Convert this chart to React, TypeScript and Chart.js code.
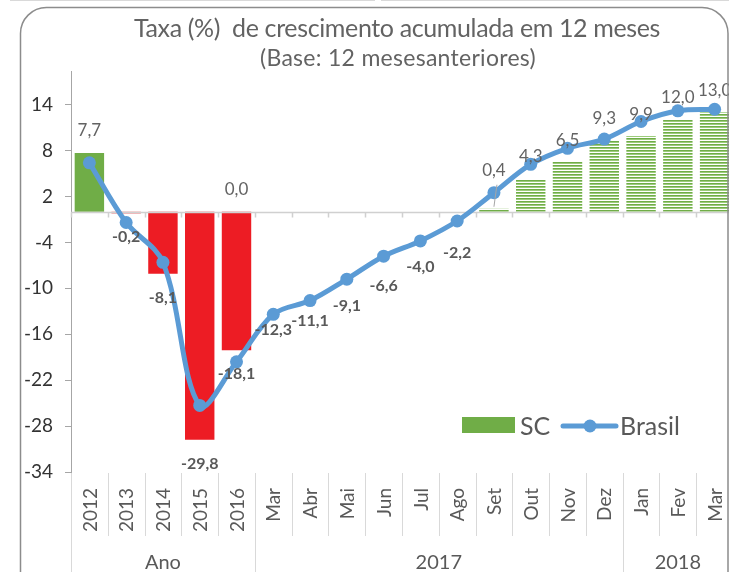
import React, { useEffect, useRef } from "react";
import { Chart, registerables } from "chart.js";

Chart.register(...registerables);

const categories = ["2012", "2013", "2014", "2015", "2016", "Mar", "Abr", "Mai", "Jun", "Jul", "Ago", "Set", "Out", "Nov", "Dez", "Jan", "Fev", "Mar"];
const groupLabels = ["Ano", "2017", "2018"];
const groupSizes = [5, 10, 3];
const scValues = [7.7, -0.2, -8.1, -29.8, -18.1, null, null, null, null, null, null, 0.4, 4.3, 6.5, 9.3, 9.9, 12.0, 13.0];
const brasilValues = [6.4, -1.4, -6.6, -25.3, -19.6, -13.4, -11.6, -8.8, -5.8, -3.8, -1.2, 2.5, 6.2, 8.3, 9.5, 11.8, 13.2, 13.4];
const upperLabels = [7.7, null, null, null, 0.0, null, null, null, null, null, null, 0.4, 4.3, 6.5, 9.3, 9.9, 12.0, 13.0];
const lowerLabels = [null, -0.2, -8.1, -29.8, -18.1, -12.3, -11.1, -9.1, -6.6, -4.0, -2.2, null, null, null, null, null, null, null];
const yTicks = [-34, -28, -22, -16, -10, -4, 2, 8, 14];
const yMin = -34;
const yMax = 18.4;
const titleText = "Taxa (%)  de crescimento acumulada em 12 meses";
const subtitleText = "(Base: 12 mesesanteriores)";

const FONT = 'Lato, "Open Sans", sans-serif';
const fmt = (v: number) => v.toFixed(1).replace(".", ",");

function fitText(ctx: CanvasRenderingContext2D, text: string, cx: number, y: number, width: number) {
  (ctx as any).letterSpacing = "0px";
  const w = ctx.measureText(text).width;
  const ls = (width - w) / text.length;
  (ctx as any).letterSpacing = ls + "px";
  ctx.textAlign = "left";
  ctx.fillText(text, cx - width / 2, y);
  (ctx as any).letterSpacing = "0px";
}

export default function App() {
  const ref = useRef<HTMLCanvasElement>(null);
  useEffect(() => {
    document.body.style.margin = "0";
    const canvas = ref.current!;
    const ctx = canvas.getContext("2d")!;
    const pc = document.createElement("canvas");
    pc.width = 4;
    pc.height = 3;
    const p = pc.getContext("2d")!;
    p.fillStyle = "#ffffff";
    p.fillRect(0, 0, 4, 3);
    p.fillStyle = "#70ad47";
    p.fillRect(0, 0, 4, 1);
    p.fillStyle = "#9ccb7c";
    p.fillRect(0, 1, 4, 1);
    const pattern = ctx.createPattern(pc, "repeat");
    const barColors = scValues.map((v, i) => (i >= 11 ? pattern : (v ?? 0) >= 0 ? "#70ad47" : "#ed1c24"));

    const custom = {
      id: "custom",
      beforeDraw(chart: any) {
        const c = chart.ctx;
        c.save();
        c.fillStyle = "#ffffff";
        c.fillRect(0, 0, chart.width, chart.height);
        c.restore();
      },
      afterDatasetDraw(chart: any, args: any) {
        if (args.index !== 0) return;
        const c = chart.ctx;
        const xs = chart.scales.x;
        const ys = chart.scales.y;
        const y0 = Math.round(ys.getPixelForValue(0)) + 0.5;
        const cw = xs.getPixelForValue(1) - xs.getPixelForValue(0);
        const left = xs.getPixelForValue(0) - cw / 2;
        c.save();
        c.strokeStyle = "#d0d0d0";
        c.lineWidth = 1.5;
        c.beginPath();
        c.moveTo(chart.chartArea.left, y0);
        c.lineTo(chart.chartArea.right, y0);
        for (let i = 0; i <= categories.length; i++) {
          const x = Math.round(left + i * cw) + 0.5;
          c.moveTo(x, y0);
          c.lineTo(x, y0 + 5);
        }
        c.stroke();
        c.restore();
      },
      afterDatasetsDraw(chart: any) {
        const c = chart.ctx;
        const xs = chart.scales.x;
        const ys = chart.scales.y;
        c.save();
        c.textAlign = "center";
        c.textBaseline = "middle";
        c.fillStyle = "#636363";
        c.font = `17px ${FONT}`;
        upperLabels.forEach((v, i) => {
          if (v === null) return;
          const x = xs.getPixelForValue(i);
          let y = ys.getPixelForValue(v) - 22;
          if (i === 11) {
            y = ys.getPixelForValue(v) - 38;
            c.save();
            c.strokeStyle = "#a6a6a6";
            c.lineWidth = 1;
            c.beginPath();
            c.moveTo(x + 3, y + 14);
            c.lineTo(x, y + 36);
            c.stroke();
            c.restore();
          }
          c.fillText(fmt(v), x, y);
        });
        c.font = `bold 16px ${FONT}`;
        c.fillStyle = "#595959";
        lowerLabels.forEach((v, i) => {
          if (v === null) return;
          const x = xs.getPixelForValue(i);
          const y = ys.getPixelForValue(v) + 24;
          c.fillText(fmt(v), x, y);
        });
        c.restore();
      },
      afterDraw(chart: any) {
        const c = chart.ctx;
        const xs = chart.scales.x;
        const area = chart.chartArea;
        c.save();
        // title
        c.fillStyle = "#636363";
        c.textBaseline = "alphabetic";
        c.font = `25px ${FONT}`;
        fitText(c, titleText, 397, 37, 526);
        c.font = `23px ${FONT}`;
        fitText(c, subtitleText, 398, 66, 276);

        // multi-level category axis
        const cw = xs.getPixelForValue(1) - xs.getPixelForValue(0);
        const left = xs.getPixelForValue(0) - cw / 2;
        const top = area.bottom + 1;
        const groupBounds = [0];
        groupSizes.forEach((s) => groupBounds.push(groupBounds[groupBounds.length - 1] + s));
        c.strokeStyle = "#d9d9d9";
        c.lineWidth = 1;
        c.beginPath();
        for (let i = 0; i <= categories.length; i++) {
          const x = Math.round(left + i * cw) + 0.5;
          const long = groupBounds.includes(i);
          c.moveTo(x, top);
          c.lineTo(x, long ? chart.height + 5 : top + 63);
        }
        c.stroke();
        c.fillStyle = "#595959";
        c.font = `19px ${FONT}`;
        categories.forEach((lab, i) => {
          const x = xs.getPixelForValue(i);
          c.save();
          c.translate(x, top + 15);
          c.rotate(-Math.PI / 2);
          c.textAlign = "right";
          c.textBaseline = "middle";
          c.fillText(lab, 0, 1);
          c.restore();
        });
        c.font = `20px ${FONT}`;
        c.textAlign = "center";
        c.textBaseline = "middle";
        groupLabels.forEach((g, gi) => {
          const a = groupBounds[gi];
          const b = groupBounds[gi + 1];
          const x = left + ((a + b) / 2) * cw;
          c.fillText(g, x, top + 90);
        });

        // legend
        c.fillStyle = "#70ad47";
        c.fillRect(462, 417, 53, 16);
        c.fillStyle = "#595959";
        c.font = `25px ${FONT}`;
        c.textAlign = "left";
        c.textBaseline = "alphabetic";
        c.fillText("SC", 520, 435);
        c.strokeStyle = "#5b9bd5";
        c.lineWidth = 5;
        c.lineCap = "round";
        c.beginPath();
        c.moveTo(563, 426);
        c.lineTo(616, 426);
        c.stroke();
        c.fillStyle = "#5b9bd5";
        c.beginPath();
        c.arc(590, 426, 6.5, 0, Math.PI * 2);
        c.fill();
        c.fillStyle = "#595959";
        c.fillText("Brasil", 620, 435);

        // outer border
        c.strokeStyle = "#8c8c8c";
        c.lineWidth = 1.5;
        c.lineCap = "butt";
        c.beginPath();
        (c as any).roundRect(20.5, 7.5, 707.5, 590, 26);
        c.stroke();
        c.strokeStyle = "#d9d9d9";
        c.lineWidth = 1;
        c.beginPath();
        c.moveTo(10, 0.5);
        c.lineTo(375, 0.5);
        c.moveTo(381, 0.5);
        c.lineTo(729, 0.5);
        c.stroke();
        c.restore();
      },
    };

    const chart = new Chart(canvas, {
      type: "bar",
      data: {
        labels: categories,
        datasets: [
          {
            type: "bar",
            label: "SC",
            data: scValues as any,
            backgroundColor: barColors as any,
            categoryPercentage: 0.8,
            barPercentage: 1,
            order: 1,
          },
          {
            type: "line",
            label: "Brasil",
            data: brasilValues,
            borderColor: "#5b9bd5",
            backgroundColor: "#5b9bd5",
            borderWidth: 5,
            pointRadius: 6.5,
            pointBackgroundColor: "#5b9bd5",
            pointBorderWidth: 0,
            tension: 0.35,
            borderCapStyle: "round",
            order: 0,
          } as any,
        ],
      },
      options: {
        animation: false,
        responsive: false,
        devicePixelRatio: 1,
        layout: { padding: { left: 0, top: 71, right: 7, bottom: 100 } },
        plugins: { legend: { display: false }, tooltip: { enabled: false }, title: { display: false } },
        scales: {
          x: { display: false, offset: true },
          y: {
            min: yMin,
            max: yMax,
            afterFit: (s: any) => {
              s.width = 71;
            },
            afterBuildTicks: (s: any) => {
              s.ticks = yTicks.map((v) => ({ value: v }));
            },
            ticks: {
              font: { family: FONT, size: 19 },
              color: "#333333",
              padding: 12,
              callback: (v: any) => String(v),
            },
            grid: { drawOnChartArea: false, drawTicks: true, tickLength: 6, color: "#a6a6a6" },
            border: { display: true, color: "#a6a6a6", width: 1 },
          },
        },
      },
      plugins: [custom],
    });
    return () => chart.destroy();
  }, []);
  return (
    <div style={{ width: 729, height: 572, overflow: "hidden", position: "relative", background: "#fff" }}>
      <canvas ref={ref} width={740} height={572} style={{ display: "block", width: 740, height: 572 }} />
    </div>
  );
}
